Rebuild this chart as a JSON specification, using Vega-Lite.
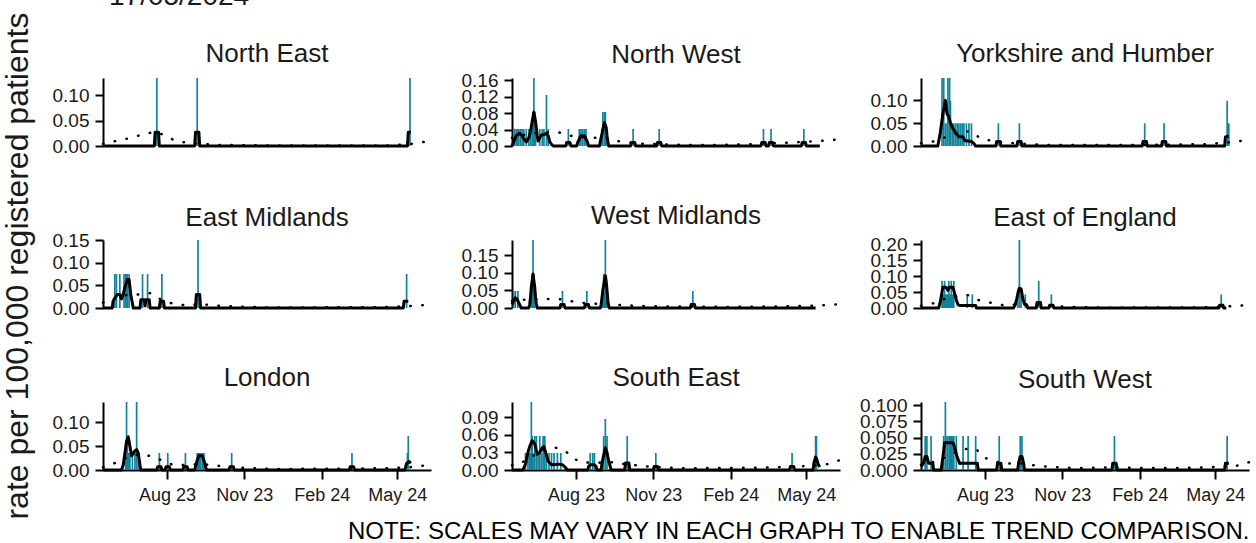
{
"$schema": "https://vega.github.io/schema/vega-lite/v6.json",
"background": "white",
"padding": {"top": -18, "left": 2, "right": 2, "bottom": 0},
"config": {
 "font": "Liberation Sans",
 "view": {"stroke": null},
 "axis": {"grid": false, "domainColor": "black", "domainWidth": 2, "tickColor": "black", "tickWidth": 2, "tickSize": 8, "labelFontSize": 19, "labelColor": "#1a1a1a", "labelPadding": 6, "labelFlush": false, "labelOverlap": false, "tickCount": 20, "titleFontWeight": "normal", "titleColor": "#1a1a1a"},
 "title": {"fontSize": 26, "fontWeight": "normal", "color": "#1a1a1a", "offset": 10}
},
"datasets": {
 "daily": [
  {"region":"NE","date":"2023-07-20","value":0.134},{"region":"NE","date":"2023-09-06","value":0.134},{"region":"NE","date":"2024-05-16","value":0.134},
  {"region":"NW","date":"2023-05-20","value":0.0415},{"region":"NW","date":"2023-05-22","value":0.0415},{"region":"NW","date":"2023-05-24","value":0.0415},{"region":"NW","date":"2023-05-25","value":0.0415},{"region":"NW","date":"2023-05-27","value":0.0415},{"region":"NW","date":"2023-05-29","value":0.0415},{"region":"NW","date":"2023-05-31","value":0.0415},{"region":"NW","date":"2023-06-03","value":0.0415},{"region":"NW","date":"2023-06-06","value":0.0415},{"region":"NW","date":"2023-06-08","value":0.0415},{"region":"NW","date":"2023-06-10","value":0.0415},{"region":"NW","date":"2023-06-11","value":0.083},{"region":"NW","date":"2023-06-12","value":0.166},{"region":"NW","date":"2023-06-13","value":0.083},{"region":"NW","date":"2023-06-14","value":0.0415},{"region":"NW","date":"2023-06-19","value":0.0415},{"region":"NW","date":"2023-06-22","value":0.0415},{"region":"NW","date":"2023-06-24","value":0.0415},{"region":"NW","date":"2023-06-27","value":0.1245},{"region":"NW","date":"2023-06-29","value":0.0415},{"region":"NW","date":"2023-07-23","value":0.0415},{"region":"NW","date":"2023-08-05","value":0.0415},{"region":"NW","date":"2023-08-07","value":0.0415},{"region":"NW","date":"2023-08-09","value":0.0415},{"region":"NW","date":"2023-08-11","value":0.0415},{"region":"NW","date":"2023-08-13","value":0.0415},{"region":"NW","date":"2023-09-01","value":0.0415},{"region":"NW","date":"2023-09-02","value":0.083},{"region":"NW","date":"2023-09-04","value":0.083},{"region":"NW","date":"2023-09-05","value":0.083},{"region":"NW","date":"2023-09-06","value":0.0415},{"region":"NW","date":"2023-10-08","value":0.0415},{"region":"NW","date":"2023-11-08","value":0.0415},{"region":"NW","date":"2024-03-11","value":0.0415},{"region":"NW","date":"2024-03-20","value":0.0415},{"region":"NW","date":"2024-04-28","value":0.0415},
  {"region":"YH","date":"2023-06-11","value":0.149},{"region":"YH","date":"2023-06-13","value":0.149},{"region":"YH","date":"2023-06-15","value":0.0497},{"region":"YH","date":"2023-06-17","value":0.0497},{"region":"YH","date":"2023-06-18","value":0.149},{"region":"YH","date":"2023-06-20","value":0.149},{"region":"YH","date":"2023-06-21","value":0.099},{"region":"YH","date":"2023-06-23","value":0.0497},{"region":"YH","date":"2023-06-25","value":0.0497},{"region":"YH","date":"2023-06-27","value":0.0497},{"region":"YH","date":"2023-06-29","value":0.0497},{"region":"YH","date":"2023-07-01","value":0.0497},{"region":"YH","date":"2023-07-03","value":0.0497},{"region":"YH","date":"2023-07-05","value":0.0497},{"region":"YH","date":"2023-07-07","value":0.0497},{"region":"YH","date":"2023-07-10","value":0.0497},{"region":"YH","date":"2023-07-13","value":0.0497},{"region":"YH","date":"2023-07-16","value":0.0497},{"region":"YH","date":"2023-08-17","value":0.0497},{"region":"YH","date":"2023-09-11","value":0.0497},{"region":"YH","date":"2024-02-07","value":0.0497},{"region":"YH","date":"2024-03-01","value":0.0497},{"region":"YH","date":"2024-05-15","value":0.099},{"region":"YH","date":"2024-05-17","value":0.0497},
  {"region":"EM","date":"2023-05-31","value":0.075},{"region":"EM","date":"2023-06-02","value":0.075},{"region":"EM","date":"2023-06-06","value":0.075},{"region":"EM","date":"2023-06-11","value":0.075},{"region":"EM","date":"2023-06-13","value":0.075},{"region":"EM","date":"2023-06-14","value":0.075},{"region":"EM","date":"2023-06-15","value":0.075},{"region":"EM","date":"2023-06-17","value":0.075},{"region":"EM","date":"2023-07-03","value":0.075},{"region":"EM","date":"2023-07-09","value":0.075},{"region":"EM","date":"2023-07-26","value":0.075},{"region":"EM","date":"2023-09-07","value":0.15},{"region":"EM","date":"2024-05-12","value":0.075},
  {"region":"WM","date":"2023-05-19","value":0.0485},{"region":"WM","date":"2023-05-21","value":0.0485},{"region":"WM","date":"2023-05-24","value":0.0485},{"region":"WM","date":"2023-06-09","value":0.0485},{"region":"WM","date":"2023-06-10","value":0.097},{"region":"WM","date":"2023-06-11","value":0.194},{"region":"WM","date":"2023-06-12","value":0.097},{"region":"WM","date":"2023-06-13","value":0.0485},{"region":"WM","date":"2023-07-16","value":0.0485},{"region":"WM","date":"2023-08-14","value":0.0485},{"region":"WM","date":"2023-09-02","value":0.0485},{"region":"WM","date":"2023-09-03","value":0.097},{"region":"WM","date":"2023-09-04","value":0.0485},{"region":"WM","date":"2023-09-05","value":0.194},{"region":"WM","date":"2023-09-06","value":0.0485},{"region":"WM","date":"2023-09-07","value":0.0485},{"region":"WM","date":"2023-12-18","value":0.0485},
  {"region":"EE","date":"2023-06-11","value":0.085},{"region":"EE","date":"2023-06-12","value":0.0425},{"region":"EE","date":"2023-06-13","value":0.0425},{"region":"EE","date":"2023-06-14","value":0.085},{"region":"EE","date":"2023-06-15","value":0.0425},{"region":"EE","date":"2023-06-16","value":0.0425},{"region":"EE","date":"2023-06-17","value":0.0425},{"region":"EE","date":"2023-06-18","value":0.0425},{"region":"EE","date":"2023-06-19","value":0.085},{"region":"EE","date":"2023-06-20","value":0.0425},{"region":"EE","date":"2023-06-21","value":0.0425},{"region":"EE","date":"2023-06-22","value":0.085},{"region":"EE","date":"2023-06-23","value":0.0425},{"region":"EE","date":"2023-06-24","value":0.0425},{"region":"EE","date":"2023-06-25","value":0.085},{"region":"EE","date":"2023-07-11","value":0.0425},{"region":"EE","date":"2023-07-17","value":0.0425},{"region":"EE","date":"2023-09-09","value":0.0425},{"region":"EE","date":"2023-09-11","value":0.2125},{"region":"EE","date":"2023-09-13","value":0.0425},{"region":"EE","date":"2023-09-18","value":0.0425},{"region":"EE","date":"2023-10-04","value":0.085},{"region":"EE","date":"2023-10-19","value":0.0425},{"region":"EE","date":"2024-05-08","value":0.0425},
  {"region":"LO","date":"2023-06-13","value":0.0357},{"region":"LO","date":"2023-06-14","value":0.143},{"region":"LO","date":"2023-06-15","value":0.0714},{"region":"LO","date":"2023-06-16","value":0.0357},{"region":"LO","date":"2023-06-17","value":0.0357},{"region":"LO","date":"2023-06-18","value":0.0357},{"region":"LO","date":"2023-06-21","value":0.0357},{"region":"LO","date":"2023-06-24","value":0.0357},{"region":"LO","date":"2023-06-26","value":0.143},{"region":"LO","date":"2023-06-28","value":0.0357},{"region":"LO","date":"2023-07-23","value":0.0357},{"region":"LO","date":"2023-08-02","value":0.0357},{"region":"LO","date":"2023-08-23","value":0.0357},{"region":"LO","date":"2023-09-06","value":0.0357},{"region":"LO","date":"2023-09-07","value":0.0357},{"region":"LO","date":"2023-09-08","value":0.0357},{"region":"LO","date":"2023-09-09","value":0.0357},{"region":"LO","date":"2023-09-10","value":0.0357},{"region":"LO","date":"2023-09-12","value":0.0357},{"region":"LO","date":"2023-09-13","value":0.0357},{"region":"LO","date":"2023-09-14","value":0.0357},{"region":"LO","date":"2023-10-17","value":0.0357},{"region":"LO","date":"2024-03-08","value":0.0357},{"region":"LO","date":"2024-05-13","value":0.0357},{"region":"LO","date":"2024-05-14","value":0.0714},
  {"region":"SE","date":"2023-06-02","value":0.029},{"region":"SE","date":"2023-06-05","value":0.029},{"region":"SE","date":"2023-06-07","value":0.029},{"region":"SE","date":"2023-06-08","value":0.029},{"region":"SE","date":"2023-06-09","value":0.116},{"region":"SE","date":"2023-06-10","value":0.058},{"region":"SE","date":"2023-06-11","value":0.029},{"region":"SE","date":"2023-06-13","value":0.058},{"region":"SE","date":"2023-06-15","value":0.058},{"region":"SE","date":"2023-06-17","value":0.029},{"region":"SE","date":"2023-06-19","value":0.058},{"region":"SE","date":"2023-06-21","value":0.029},{"region":"SE","date":"2023-06-23","value":0.058},{"region":"SE","date":"2023-06-25","value":0.058},{"region":"SE","date":"2023-06-27","value":0.029},{"region":"SE","date":"2023-06-30","value":0.029},{"region":"SE","date":"2023-07-03","value":0.029},{"region":"SE","date":"2023-07-06","value":0.029},{"region":"SE","date":"2023-07-10","value":0.029},{"region":"SE","date":"2023-07-14","value":0.029},{"region":"SE","date":"2023-08-18","value":0.029},{"region":"SE","date":"2023-08-21","value":0.029},{"region":"SE","date":"2023-08-23","value":0.029},{"region":"SE","date":"2023-09-03","value":0.058},{"region":"SE","date":"2023-09-05","value":0.087},{"region":"SE","date":"2023-09-07","value":0.058},{"region":"SE","date":"2023-10-01","value":0.058},{"region":"SE","date":"2023-11-04","value":0.029},{"region":"SE","date":"2024-04-14","value":0.029},{"region":"SE","date":"2024-05-12","value":0.058},{"region":"SE","date":"2024-05-13","value":0.058},
  {"region":"SW","date":"2023-05-22","value":0.0525},{"region":"SW","date":"2023-05-24","value":0.0525},{"region":"SW","date":"2023-05-29","value":0.0525},{"region":"SW","date":"2023-06-13","value":0.0525},{"region":"SW","date":"2023-06-15","value":0.105},{"region":"SW","date":"2023-06-17","value":0.0525},{"region":"SW","date":"2023-06-18","value":0.0525},{"region":"SW","date":"2023-06-20","value":0.0525},{"region":"SW","date":"2023-06-21","value":0.0525},{"region":"SW","date":"2023-06-22","value":0.0525},{"region":"SW","date":"2023-06-23","value":0.0525},{"region":"SW","date":"2023-06-25","value":0.0525},{"region":"SW","date":"2023-06-28","value":0.0525},{"region":"SW","date":"2023-07-06","value":0.0525},{"region":"SW","date":"2023-07-12","value":0.0525},{"region":"SW","date":"2023-07-21","value":0.0525},{"region":"SW","date":"2023-08-18","value":0.0525},{"region":"SW","date":"2023-09-12","value":0.0525},{"region":"SW","date":"2023-09-14","value":0.0525},{"region":"SW","date":"2024-01-02","value":0.0525},{"region":"SW","date":"2024-05-15","value":0.0525}
 ],
 "avg": [
  {"region":"NE","date":"2023-05-17","value":0},{"region":"NE","date":"2023-07-17","value":0},{"region":"NE","date":"2023-07-18","value":0.027},{"region":"NE","date":"2023-07-22","value":0.027},{"region":"NE","date":"2023-07-23","value":0},{"region":"NE","date":"2023-09-03","value":0},{"region":"NE","date":"2023-09-04","value":0.027},{"region":"NE","date":"2023-09-08","value":0.027},{"region":"NE","date":"2023-09-09","value":0},{"region":"NE","date":"2024-05-13","value":0},{"region":"NE","date":"2024-05-14","value":0.027},{"region":"NE","date":"2024-05-17","value":0.027},
  {"region":"NW","date":"2023-05-17","value":0},{"region":"NW","date":"2023-05-18","value":0.005},{"region":"NW","date":"2023-05-20","value":0.015},{"region":"NW","date":"2023-05-22","value":0.025},{"region":"NW","date":"2023-05-26","value":0.031},{"region":"NW","date":"2023-05-29","value":0.025},{"region":"NW","date":"2023-06-01","value":0.015},{"region":"NW","date":"2023-06-03","value":0.01},{"region":"NW","date":"2023-06-06","value":0.02},{"region":"NW","date":"2023-06-08","value":0.035},{"region":"NW","date":"2023-06-10","value":0.06},{"region":"NW","date":"2023-06-12","value":0.083},{"region":"NW","date":"2023-06-14","value":0.06},{"region":"NW","date":"2023-06-16","value":0.025},{"region":"NW","date":"2023-06-17","value":0.012},{"region":"NW","date":"2023-06-19","value":0.02},{"region":"NW","date":"2023-06-21","value":0.027},{"region":"NW","date":"2023-06-24","value":0.028},{"region":"NW","date":"2023-06-27","value":0.031},{"region":"NW","date":"2023-06-29","value":0.025},{"region":"NW","date":"2023-07-01","value":0.01},{"region":"NW","date":"2023-07-03","value":0.004},{"region":"NW","date":"2023-07-05","value":0},{"region":"NW","date":"2023-07-20","value":0},{"region":"NW","date":"2023-07-21","value":0.0083},{"region":"NW","date":"2023-07-25","value":0.0083},{"region":"NW","date":"2023-07-26","value":0},{"region":"NW","date":"2023-08-02","value":0},{"region":"NW","date":"2023-08-03","value":0.0083},{"region":"NW","date":"2023-08-05","value":0.017},{"region":"NW","date":"2023-08-07","value":0.025},{"region":"NW","date":"2023-08-11","value":0.025},{"region":"NW","date":"2023-08-13","value":0.017},{"region":"NW","date":"2023-08-15","value":0.0083},{"region":"NW","date":"2023-08-16","value":0},{"region":"NW","date":"2023-08-29","value":0},{"region":"NW","date":"2023-08-30","value":0.01},{"region":"NW","date":"2023-09-01","value":0.03},{"region":"NW","date":"2023-09-03","value":0.05},{"region":"NW","date":"2023-09-04","value":0.057},{"region":"NW","date":"2023-09-06","value":0.045},{"region":"NW","date":"2023-09-07","value":0.025},{"region":"NW","date":"2023-09-08","value":0.01},{"region":"NW","date":"2023-09-09","value":0},{"region":"NW","date":"2023-10-05","value":0},{"region":"NW","date":"2023-10-06","value":0.0083},{"region":"NW","date":"2023-10-10","value":0.0083},{"region":"NW","date":"2023-10-11","value":0},{"region":"NW","date":"2023-11-05","value":0},{"region":"NW","date":"2023-11-06","value":0.0083},{"region":"NW","date":"2023-11-10","value":0.0083},{"region":"NW","date":"2023-11-11","value":0},{"region":"NW","date":"2024-03-08","value":0},{"region":"NW","date":"2024-03-09","value":0.0083},{"region":"NW","date":"2024-03-13","value":0.0083},{"region":"NW","date":"2024-03-14","value":0},{"region":"NW","date":"2024-03-17","value":0},{"region":"NW","date":"2024-03-18","value":0.0083},{"region":"NW","date":"2024-03-22","value":0.0083},{"region":"NW","date":"2024-03-23","value":0},{"region":"NW","date":"2024-04-25","value":0},{"region":"NW","date":"2024-04-26","value":0.0083},{"region":"NW","date":"2024-04-30","value":0.0083},{"region":"NW","date":"2024-05-01","value":0},{"region":"NW","date":"2024-05-17","value":0},
  {"region":"YH","date":"2023-05-17","value":0},{"region":"YH","date":"2023-06-06","value":0},{"region":"YH","date":"2023-06-09","value":0.03},{"region":"YH","date":"2023-06-12","value":0.07},{"region":"YH","date":"2023-06-15","value":0.1},{"region":"YH","date":"2023-06-17","value":0.07},{"region":"YH","date":"2023-06-19","value":0.065},{"region":"YH","date":"2023-06-21","value":0.05},{"region":"YH","date":"2023-06-23","value":0.042},{"region":"YH","date":"2023-06-25","value":0.035},{"region":"YH","date":"2023-06-27","value":0.03},{"region":"YH","date":"2023-06-29","value":0.025},{"region":"YH","date":"2023-07-01","value":0.02},{"region":"YH","date":"2023-07-06","value":0.02},{"region":"YH","date":"2023-07-08","value":0.012},{"region":"YH","date":"2023-07-16","value":0.01},{"region":"YH","date":"2023-07-19","value":0.005},{"region":"YH","date":"2023-07-21","value":0},{"region":"YH","date":"2023-08-14","value":0},{"region":"YH","date":"2023-08-15","value":0.01},{"region":"YH","date":"2023-08-19","value":0.01},{"region":"YH","date":"2023-08-20","value":0},{"region":"YH","date":"2023-09-08","value":0},{"region":"YH","date":"2023-09-09","value":0.01},{"region":"YH","date":"2023-09-13","value":0.01},{"region":"YH","date":"2023-09-14","value":0},{"region":"YH","date":"2024-02-04","value":0},{"region":"YH","date":"2024-02-05","value":0.01},{"region":"YH","date":"2024-02-09","value":0.01},{"region":"YH","date":"2024-02-10","value":0},{"region":"YH","date":"2024-02-27","value":0},{"region":"YH","date":"2024-02-28","value":0.01},{"region":"YH","date":"2024-03-03","value":0.01},{"region":"YH","date":"2024-03-04","value":0},{"region":"YH","date":"2024-05-12","value":0},{"region":"YH","date":"2024-05-13","value":0.02},{"region":"YH","date":"2024-05-17","value":0.022},
  {"region":"EM","date":"2023-05-17","value":0},{"region":"EM","date":"2023-05-28","value":0},{"region":"EM","date":"2023-05-29","value":0.015},{"region":"EM","date":"2023-05-31","value":0.022},{"region":"EM","date":"2023-06-03","value":0.03},{"region":"EM","date":"2023-06-06","value":0.03},{"region":"EM","date":"2023-06-08","value":0.02},{"region":"EM","date":"2023-06-10","value":0.03},{"region":"EM","date":"2023-06-12","value":0.045},{"region":"EM","date":"2023-06-15","value":0.063},{"region":"EM","date":"2023-06-17","value":0.063},{"region":"EM","date":"2023-06-19","value":0.03},{"region":"EM","date":"2023-06-21","value":0.01},{"region":"EM","date":"2023-06-22","value":0},{"region":"EM","date":"2023-06-30","value":0},{"region":"EM","date":"2023-07-01","value":0.018},{"region":"EM","date":"2023-07-05","value":0.018},{"region":"EM","date":"2023-07-06","value":0.005},{"region":"EM","date":"2023-07-07","value":0.018},{"region":"EM","date":"2023-07-11","value":0.018},{"region":"EM","date":"2023-07-12","value":0},{"region":"EM","date":"2023-07-23","value":0},{"region":"EM","date":"2023-07-24","value":0.015},{"region":"EM","date":"2023-07-28","value":0.015},{"region":"EM","date":"2023-07-29","value":0},{"region":"EM","date":"2023-09-04","value":0},{"region":"EM","date":"2023-09-05","value":0.03},{"region":"EM","date":"2023-09-09","value":0.03},{"region":"EM","date":"2023-09-10","value":0},{"region":"EM","date":"2024-05-08","value":0},{"region":"EM","date":"2024-05-09","value":0.015},{"region":"EM","date":"2024-05-14","value":0.015},
  {"region":"WM","date":"2023-05-17","value":0.01},{"region":"WM","date":"2023-05-19","value":0.02},{"region":"WM","date":"2023-05-21","value":0.029},{"region":"WM","date":"2023-05-23","value":0.025},{"region":"WM","date":"2023-05-25","value":0.015},{"region":"WM","date":"2023-05-27","value":0.005},{"region":"WM","date":"2023-05-28","value":0},{"region":"WM","date":"2023-06-06","value":0},{"region":"WM","date":"2023-06-07","value":0.01},{"region":"WM","date":"2023-06-08","value":0.03},{"region":"WM","date":"2023-06-09","value":0.06},{"region":"WM","date":"2023-06-11","value":0.097},{"region":"WM","date":"2023-06-13","value":0.06},{"region":"WM","date":"2023-06-14","value":0.03},{"region":"WM","date":"2023-06-15","value":0.012},{"region":"WM","date":"2023-06-16","value":0},{"region":"WM","date":"2023-07-13","value":0},{"region":"WM","date":"2023-07-14","value":0.0097},{"region":"WM","date":"2023-07-18","value":0.0097},{"region":"WM","date":"2023-07-19","value":0},{"region":"WM","date":"2023-08-11","value":0},{"region":"WM","date":"2023-08-12","value":0.0097},{"region":"WM","date":"2023-08-16","value":0.0097},{"region":"WM","date":"2023-08-17","value":0},{"region":"WM","date":"2023-08-30","value":0},{"region":"WM","date":"2023-08-31","value":0.01},{"region":"WM","date":"2023-09-01","value":0.03},{"region":"WM","date":"2023-09-02","value":0.05},{"region":"WM","date":"2023-09-04","value":0.08},{"region":"WM","date":"2023-09-05","value":0.092},{"region":"WM","date":"2023-09-06","value":0.075},{"region":"WM","date":"2023-09-07","value":0.05},{"region":"WM","date":"2023-09-08","value":0.02},{"region":"WM","date":"2023-09-09","value":0.005},{"region":"WM","date":"2023-09-10","value":0},{"region":"WM","date":"2023-12-15","value":0},{"region":"WM","date":"2023-12-16","value":0.0097},{"region":"WM","date":"2023-12-20","value":0.0097},{"region":"WM","date":"2023-12-21","value":0},{"region":"WM","date":"2024-05-12","value":0},
  {"region":"EE","date":"2023-05-17","value":0},{"region":"EE","date":"2023-06-07","value":0},{"region":"EE","date":"2023-06-09","value":0.02},{"region":"EE","date":"2023-06-11","value":0.05},{"region":"EE","date":"2023-06-12","value":0.065},{"region":"EE","date":"2023-06-16","value":0.065},{"region":"EE","date":"2023-06-18","value":0.055},{"region":"EE","date":"2023-06-20","value":0.065},{"region":"EE","date":"2023-06-24","value":0.065},{"region":"EE","date":"2023-06-26","value":0.045},{"region":"EE","date":"2023-06-28","value":0.025},{"region":"EE","date":"2023-06-30","value":0.01},{"region":"EE","date":"2023-07-02","value":0.008},{"region":"EE","date":"2023-07-21","value":0.008},{"region":"EE","date":"2023-07-22","value":0},{"region":"EE","date":"2023-09-04","value":0},{"region":"EE","date":"2023-09-06","value":0.01},{"region":"EE","date":"2023-09-08","value":0.03},{"region":"EE","date":"2023-09-10","value":0.055},{"region":"EE","date":"2023-09-11","value":0.062},{"region":"EE","date":"2023-09-13","value":0.06},{"region":"EE","date":"2023-09-15","value":0.03},{"region":"EE","date":"2023-09-17","value":0.012},{"region":"EE","date":"2023-09-20","value":0.008},{"region":"EE","date":"2023-09-21","value":0},{"region":"EE","date":"2023-10-01","value":0},{"region":"EE","date":"2023-10-02","value":0.017},{"region":"EE","date":"2023-10-06","value":0.017},{"region":"EE","date":"2023-10-07","value":0},{"region":"EE","date":"2023-10-16","value":0},{"region":"EE","date":"2023-10-17","value":0.0085},{"region":"EE","date":"2023-10-21","value":0.0085},{"region":"EE","date":"2023-10-22","value":0},{"region":"EE","date":"2024-05-05","value":0},{"region":"EE","date":"2024-05-06","value":0.0085},{"region":"EE","date":"2024-05-10","value":0.0085},{"region":"EE","date":"2024-05-11","value":0},{"region":"EE","date":"2024-05-14","value":0},
  {"region":"LO","date":"2023-05-17","value":0},{"region":"LO","date":"2023-06-08","value":0},{"region":"LO","date":"2023-06-10","value":0.01},{"region":"LO","date":"2023-06-12","value":0.035},{"region":"LO","date":"2023-06-14","value":0.06},{"region":"LO","date":"2023-06-16","value":0.07},{"region":"LO","date":"2023-06-18","value":0.05},{"region":"LO","date":"2023-06-20","value":0.03},{"region":"LO","date":"2023-06-22","value":0.035},{"region":"LO","date":"2023-06-24","value":0.04},{"region":"LO","date":"2023-06-26","value":0.043},{"region":"LO","date":"2023-06-28","value":0.035},{"region":"LO","date":"2023-06-30","value":0.01},{"region":"LO","date":"2023-07-01","value":0},{"region":"LO","date":"2023-07-20","value":0},{"region":"LO","date":"2023-07-21","value":0.007},{"region":"LO","date":"2023-07-25","value":0.007},{"region":"LO","date":"2023-07-26","value":0},{"region":"LO","date":"2023-07-30","value":0},{"region":"LO","date":"2023-07-31","value":0.007},{"region":"LO","date":"2023-08-04","value":0.007},{"region":"LO","date":"2023-08-05","value":0},{"region":"LO","date":"2023-08-20","value":0},{"region":"LO","date":"2023-08-21","value":0.007},{"region":"LO","date":"2023-08-25","value":0.007},{"region":"LO","date":"2023-08-26","value":0},{"region":"LO","date":"2023-09-03","value":0},{"region":"LO","date":"2023-09-04","value":0.007},{"region":"LO","date":"2023-09-06","value":0.02},{"region":"LO","date":"2023-09-08","value":0.03},{"region":"LO","date":"2023-09-12","value":0.03},{"region":"LO","date":"2023-09-14","value":0.02},{"region":"LO","date":"2023-09-16","value":0.007},{"region":"LO","date":"2023-09-17","value":0},{"region":"LO","date":"2023-10-14","value":0},{"region":"LO","date":"2023-10-15","value":0.007},{"region":"LO","date":"2023-10-19","value":0.007},{"region":"LO","date":"2023-10-20","value":0},{"region":"LO","date":"2024-03-05","value":0},{"region":"LO","date":"2024-03-06","value":0.007},{"region":"LO","date":"2024-03-10","value":0.007},{"region":"LO","date":"2024-03-11","value":0},{"region":"LO","date":"2024-05-10","value":0},{"region":"LO","date":"2024-05-11","value":0.007},{"region":"LO","date":"2024-05-12","value":0.014},{"region":"LO","date":"2024-05-15","value":0.018},{"region":"LO","date":"2024-05-17","value":0.014},
  {"region":"SE","date":"2023-05-17","value":0},{"region":"SE","date":"2023-05-30","value":0},{"region":"SE","date":"2023-06-02","value":0.01},{"region":"SE","date":"2023-06-05","value":0.03},{"region":"SE","date":"2023-06-07","value":0.04},{"region":"SE","date":"2023-06-10","value":0.05},{"region":"SE","date":"2023-06-13","value":0.045},{"region":"SE","date":"2023-06-16","value":0.027},{"region":"SE","date":"2023-06-19","value":0.03},{"region":"SE","date":"2023-06-22","value":0.038},{"region":"SE","date":"2023-06-24","value":0.04},{"region":"SE","date":"2023-06-26","value":0.03},{"region":"SE","date":"2023-06-29","value":0.015},{"region":"SE","date":"2023-07-03","value":0.009},{"region":"SE","date":"2023-07-11","value":0.01},{"region":"SE","date":"2023-07-16","value":0.009},{"region":"SE","date":"2023-07-19","value":0.005},{"region":"SE","date":"2023-07-22","value":0},{"region":"SE","date":"2023-08-15","value":0},{"region":"SE","date":"2023-08-16","value":0.006},{"region":"SE","date":"2023-08-18","value":0.009},{"region":"SE","date":"2023-08-23","value":0.009},{"region":"SE","date":"2023-08-25","value":0.006},{"region":"SE","date":"2023-08-26","value":0},{"region":"SE","date":"2023-08-31","value":0},{"region":"SE","date":"2023-09-01","value":0.012},{"region":"SE","date":"2023-09-03","value":0.025},{"region":"SE","date":"2023-09-05","value":0.038},{"region":"SE","date":"2023-09-07","value":0.03},{"region":"SE","date":"2023-09-09","value":0.015},{"region":"SE","date":"2023-09-11","value":0.005},{"region":"SE","date":"2023-09-12","value":0},{"region":"SE","date":"2023-09-28","value":0},{"region":"SE","date":"2023-09-29","value":0.012},{"region":"SE","date":"2023-10-03","value":0.012},{"region":"SE","date":"2023-10-04","value":0},{"region":"SE","date":"2023-11-01","value":0},{"region":"SE","date":"2023-11-02","value":0.006},{"region":"SE","date":"2023-11-06","value":0.006},{"region":"SE","date":"2023-11-07","value":0},{"region":"SE","date":"2024-04-11","value":0},{"region":"SE","date":"2024-04-12","value":0.006},{"region":"SE","date":"2024-04-16","value":0.006},{"region":"SE","date":"2024-04-17","value":0},{"region":"SE","date":"2024-05-09","value":0},{"region":"SE","date":"2024-05-10","value":0.012},{"region":"SE","date":"2024-05-12","value":0.022},{"region":"SE","date":"2024-05-13","value":0.02},{"region":"SE","date":"2024-05-15","value":0.01},{"region":"SE","date":"2024-05-17","value":0.005},
  {"region":"SW","date":"2023-05-17","value":0.005},{"region":"SW","date":"2023-05-20","value":0.0105},{"region":"SW","date":"2023-05-22","value":0.021},{"region":"SW","date":"2023-05-24","value":0.021},{"region":"SW","date":"2023-05-26","value":0.0105},{"region":"SW","date":"2023-05-31","value":0.0105},{"region":"SW","date":"2023-06-01","value":0},{"region":"SW","date":"2023-06-10","value":0},{"region":"SW","date":"2023-06-11","value":0.01},{"region":"SW","date":"2023-06-13","value":0.03},{"region":"SW","date":"2023-06-14","value":0.042},{"region":"SW","date":"2023-06-24","value":0.042},{"region":"SW","date":"2023-06-26","value":0.035},{"region":"SW","date":"2023-06-29","value":0.02},{"region":"SW","date":"2023-07-02","value":0.01},{"region":"SW","date":"2023-07-04","value":0.0105},{"region":"SW","date":"2023-07-23","value":0.0105},{"region":"SW","date":"2023-07-24","value":0},{"region":"SW","date":"2023-08-15","value":0},{"region":"SW","date":"2023-08-16","value":0.0105},{"region":"SW","date":"2023-08-20","value":0.0105},{"region":"SW","date":"2023-08-21","value":0},{"region":"SW","date":"2023-09-09","value":0},{"region":"SW","date":"2023-09-10","value":0.0105},{"region":"SW","date":"2023-09-12","value":0.021},{"region":"SW","date":"2023-09-14","value":0.021},{"region":"SW","date":"2023-09-16","value":0.0105},{"region":"SW","date":"2023-09-17","value":0},{"region":"SW","date":"2023-12-30","value":0},{"region":"SW","date":"2023-12-31","value":0.0105},{"region":"SW","date":"2024-01-04","value":0.0105},{"region":"SW","date":"2024-01-05","value":0},{"region":"SW","date":"2024-05-12","value":0},{"region":"SW","date":"2024-05-13","value":0.0105},{"region":"SW","date":"2024-05-17","value":0.0105}
 ],
 "trend": [
  {"region":"NE","date":"2023-05-17","value":0.004},{"region":"NE","date":"2023-05-27","value":0.008},{"region":"NE","date":"2023-06-16","value":0.015},{"region":"NE","date":"2023-07-06","value":0.024},{"region":"NE","date":"2023-07-18","value":0.028},{"region":"NE","date":"2023-07-28","value":0.022},{"region":"NE","date":"2023-08-10","value":0.011},{"region":"NE","date":"2023-08-25","value":0.006},{"region":"NE","date":"2023-09-09","value":0.004},{"region":"NE","date":"2023-10-04","value":0.002},{"region":"NE","date":"2023-12-03","value":0.001},{"region":"NE","date":"2024-04-21","value":0.001},{"region":"NE","date":"2024-05-17","value":0.004},{"region":"NE","date":"2024-06-10","value":0.01},
  {"region":"NW","date":"2023-05-17","value":0.02},{"region":"NW","date":"2023-06-06","value":0.03},{"region":"NW","date":"2023-06-26","value":0.034},{"region":"NW","date":"2023-07-12","value":0.033},{"region":"NW","date":"2023-07-26","value":0.025},{"region":"NW","date":"2023-08-15","value":0.02},{"region":"NW","date":"2023-09-04","value":0.02},{"region":"NW","date":"2023-09-24","value":0.01},{"region":"NW","date":"2023-10-14","value":0.006},{"region":"NW","date":"2023-11-13","value":0.004},{"region":"NW","date":"2023-12-23","value":0.002},{"region":"NW","date":"2024-02-21","value":0.004},{"region":"NW","date":"2024-03-12","value":0.006},{"region":"NW","date":"2024-04-17","value":0.009},{"region":"NW","date":"2024-05-17","value":0.012},{"region":"NW","date":"2024-05-26","value":0.014},{"region":"NW","date":"2024-06-10","value":0.016},
  {"region":"YH","date":"2023-05-17","value":0.006},{"region":"YH","date":"2023-06-01","value":0.01},{"region":"YH","date":"2023-06-16","value":0.02},{"region":"YH","date":"2023-07-01","value":0.03},{"region":"YH","date":"2023-07-13","value":0.032},{"region":"YH","date":"2023-07-18","value":0.03},{"region":"YH","date":"2023-07-26","value":0.017},{"region":"YH","date":"2023-08-07","value":0.012},{"region":"YH","date":"2023-08-20","value":0.008},{"region":"YH","date":"2023-09-14","value":0.005},{"region":"YH","date":"2023-10-14","value":0.002},{"region":"YH","date":"2024-01-22","value":0.002},{"region":"YH","date":"2024-03-12","value":0.003},{"region":"YH","date":"2024-04-21","value":0.004},{"region":"YH","date":"2024-05-17","value":0.008},{"region":"YH","date":"2024-06-10","value":0.013},
  {"region":"EM","date":"2023-05-17","value":0.012},{"region":"EM","date":"2023-06-01","value":0.02},{"region":"EM","date":"2023-06-16","value":0.03},{"region":"EM","date":"2023-07-01","value":0.03},{"region":"EM","date":"2023-07-14","value":0.033},{"region":"EM","date":"2023-07-26","value":0.017},{"region":"EM","date":"2023-08-05","value":0.011},{"region":"EM","date":"2023-08-15","value":0.0075},{"region":"EM","date":"2023-08-27","value":0.005},{"region":"EM","date":"2023-09-09","value":0.009},{"region":"EM","date":"2023-09-29","value":0.005},{"region":"EM","date":"2023-10-24","value":0.003},{"region":"EM","date":"2023-12-03","value":0.001},{"region":"EM","date":"2024-04-21","value":0.002},{"region":"EM","date":"2024-05-25","value":0.005},{"region":"EM","date":"2024-06-10","value":0.008},
  {"region":"WM","date":"2023-05-17","value":0.02},{"region":"WM","date":"2023-06-06","value":0.025},{"region":"WM","date":"2023-07-01","value":0.026},{"region":"WM","date":"2023-07-15","value":0.025},{"region":"WM","date":"2023-07-25","value":0.02},{"region":"WM","date":"2023-08-06","value":0.015},{"region":"WM","date":"2023-08-25","value":0.012},{"region":"WM","date":"2023-09-09","value":0.012},{"region":"WM","date":"2023-09-24","value":0.008},{"region":"WM","date":"2023-10-24","value":0.005},{"region":"WM","date":"2023-12-18","value":0.004},{"region":"WM","date":"2024-01-22","value":0.003},{"region":"WM","date":"2024-03-12","value":0.004},{"region":"WM","date":"2024-04-16","value":0.005},{"region":"WM","date":"2024-05-17","value":0.007},{"region":"WM","date":"2024-06-10","value":0.011},
  {"region":"EE","date":"2023-05-17","value":0.007},{"region":"EE","date":"2023-06-01","value":0.015},{"region":"EE","date":"2023-06-16","value":0.03},{"region":"EE","date":"2023-07-01","value":0.038},{"region":"EE","date":"2023-07-12","value":0.04},{"region":"EE","date":"2023-07-24","value":0.025},{"region":"EE","date":"2023-08-03","value":0.02},{"region":"EE","date":"2023-08-17","value":0.01},{"region":"EE","date":"2023-08-29","value":0.008},{"region":"EE","date":"2023-09-09","value":0.012},{"region":"EE","date":"2023-09-24","value":0.012},{"region":"EE","date":"2023-10-14","value":0.008},{"region":"EE","date":"2023-11-03","value":0.004},{"region":"EE","date":"2023-12-23","value":0.001},{"region":"EE","date":"2024-04-21","value":0.002},{"region":"EE","date":"2024-05-17","value":0.005},{"region":"EE","date":"2024-06-10","value":0.009},
  {"region":"LO","date":"2023-05-17","value":0.006},{"region":"LO","date":"2023-06-01","value":0.015},{"region":"LO","date":"2023-06-16","value":0.028},{"region":"LO","date":"2023-07-01","value":0.033},{"region":"LO","date":"2023-07-16","value":0.028},{"region":"LO","date":"2023-07-26","value":0.02},{"region":"LO","date":"2023-08-08","value":0.011},{"region":"LO","date":"2023-08-25","value":0.01},{"region":"LO","date":"2023-09-09","value":0.013},{"region":"LO","date":"2023-09-24","value":0.01},{"region":"LO","date":"2023-10-24","value":0.005},{"region":"LO","date":"2023-12-03","value":0.002},{"region":"LO","date":"2024-03-12","value":0.003},{"region":"LO","date":"2024-04-21","value":0.004},{"region":"LO","date":"2024-05-17","value":0.006},{"region":"LO","date":"2024-06-10","value":0.011},
  {"region":"SE","date":"2023-05-17","value":0.008},{"region":"SE","date":"2023-05-24","value":0.0087},{"region":"SE","date":"2023-06-06","value":0.02},{"region":"SE","date":"2023-06-21","value":0.032},{"region":"SE","date":"2023-07-08","value":0.038},{"region":"SE","date":"2023-07-20","value":0.032},{"region":"SE","date":"2023-07-28","value":0.02},{"region":"SE","date":"2023-08-09","value":0.013},{"region":"SE","date":"2023-08-25","value":0.012},{"region":"SE","date":"2023-09-09","value":0.014},{"region":"SE","date":"2023-09-29","value":0.01},{"region":"SE","date":"2023-10-24","value":0.006},{"region":"SE","date":"2023-12-03","value":0.003},{"region":"SE","date":"2024-03-12","value":0.004},{"region":"SE","date":"2024-04-21","value":0.006},{"region":"SE","date":"2024-05-17","value":0.008},{"region":"SE","date":"2024-05-26","value":0.01},{"region":"SE","date":"2024-06-10","value":0.017},
  {"region":"SW","date":"2023-05-17","value":0.008},{"region":"SW","date":"2023-05-27","value":0.01},{"region":"SW","date":"2023-06-04","value":0.014},{"region":"SW","date":"2023-06-16","value":0.02},{"region":"SW","date":"2023-07-01","value":0.03},{"region":"SW","date":"2023-07-12","value":0.033},{"region":"SW","date":"2023-07-22","value":0.032},{"region":"SW","date":"2023-07-30","value":0.02},{"region":"SW","date":"2023-08-10","value":0.014},{"region":"SW","date":"2023-08-25","value":0.01},{"region":"SW","date":"2023-09-14","value":0.01},{"region":"SW","date":"2023-10-04","value":0.006},{"region":"SW","date":"2023-11-13","value":0.003},{"region":"SW","date":"2024-01-02","value":0.004},{"region":"SW","date":"2024-02-01","value":0.003},{"region":"SW","date":"2024-03-12","value":0.003},{"region":"SW","date":"2024-04-21","value":0.004},{"region":"SW","date":"2024-05-17","value":0.006},{"region":"SW","date":"2024-05-30","value":0.007},{"region":"SW","date":"2024-06-10","value":0.012}
 ]
},
"title": {"text": "17/05/2024", "anchor": "start", "fontSize": 28, "dx": 107, "offset": 2},
"vconcat": [{
 "title": {"text": "rate per 100,000 registered patients", "orient": "left", "anchor": "middle", "fontSize": 32, "dx": 26, "offset": 17},
 "columns": 3,
 "bounds": "flush",
 "spacing": {"row": 94, "column": 81},
 "resolve": {"scale": {"x": "independent", "y": "independent"}, "axis": {"x": "independent", "y": "independent"}},
 "concat": [
  {"title": {"text": "North East", "offset": 10}, "width": 328, "height": 68,
   "encoding": {"x": {"field": "date", "type": "temporal", "scale": {"type": "utc", "domain": [{"year": 2023, "month": 5, "date": 17, "utc": true}, {"year": 2024, "month": 6, "date": 10, "utc": true}]}, "axis": null},
                "y": {"field": "value", "type": "quantitative", "scale": {"zero": true, "nice": false}, "axis": {"title": null, "labelOverlap": false, "tickCount": 20, "values": [0, 0.05, 0.1], "format": ".2f"}}},
   "layer": [
    {"data": {"name": "daily"}, "transform": [{"filter": "datum.region === 'NE'"}], "mark": {"type": "rule", "color": "#118499", "strokeWidth": 1.7}, "encoding": {"y2": {"datum": 0}}},
    {"data": {"name": "avg"}, "transform": [{"filter": "datum.region === 'NE'"}], "mark": {"type": "line", "color": "black", "strokeWidth": 3, "strokeJoin": "round"}, "encoding": {}},
    {"data": {"name": "trend"}, "transform": [{"filter": "datum.region === 'NE'"}], "mark": {"type": "line", "color": "black", "strokeWidth": 2.5, "strokeDash": [0.5, 11.5], "strokeCap": "round"}, "encoding": {}}
   ]},
  {"title": {"text": "North West", "offset": 3}, "width": 328, "height": 68,
   "encoding": {"x": {"field": "date", "type": "temporal", "scale": {"type": "utc", "domain": [{"year": 2023, "month": 5, "date": 17, "utc": true}, {"year": 2024, "month": 6, "date": 10, "utc": true}]}, "axis": null},
                "y": {"field": "value", "type": "quantitative", "scale": {"zero": true, "nice": false}, "axis": {"title": null, "labelOverlap": false, "tickCount": 20, "values": [0, 0.04, 0.08, 0.12, 0.16], "format": ".2f"}}},
   "layer": [
    {"data": {"name": "daily"}, "transform": [{"filter": "datum.region === 'NW'"}], "mark": {"type": "rule", "color": "#118499", "strokeWidth": 1.7}, "encoding": {"y2": {"datum": 0}}},
    {"data": {"name": "avg"}, "transform": [{"filter": "datum.region === 'NW'"}], "mark": {"type": "line", "color": "black", "strokeWidth": 3, "strokeJoin": "round"}, "encoding": {}},
    {"data": {"name": "trend"}, "transform": [{"filter": "datum.region === 'NW'"}], "mark": {"type": "line", "color": "black", "strokeWidth": 2.5, "strokeDash": [0.5, 11.5], "strokeCap": "round"}, "encoding": {}}
   ]},
  {"title": {"text": "Yorkshire and Humber", "offset": 10}, "width": 328, "height": 68,
   "encoding": {"x": {"field": "date", "type": "temporal", "scale": {"type": "utc", "domain": [{"year": 2023, "month": 5, "date": 17, "utc": true}, {"year": 2024, "month": 6, "date": 10, "utc": true}]}, "axis": null},
                "y": {"field": "value", "type": "quantitative", "scale": {"zero": true, "nice": false}, "axis": {"title": null, "labelOverlap": false, "tickCount": 20, "values": [0, 0.05, 0.1], "format": ".2f"}}},
   "layer": [
    {"data": {"name": "daily"}, "transform": [{"filter": "datum.region === 'YH'"}], "mark": {"type": "rule", "color": "#118499", "strokeWidth": 1.7}, "encoding": {"y2": {"datum": 0}}},
    {"data": {"name": "avg"}, "transform": [{"filter": "datum.region === 'YH'"}], "mark": {"type": "line", "color": "black", "strokeWidth": 3, "strokeJoin": "round"}, "encoding": {}},
    {"data": {"name": "trend"}, "transform": [{"filter": "datum.region === 'YH'"}], "mark": {"type": "line", "color": "black", "strokeWidth": 2.5, "strokeDash": [0.5, 11.5], "strokeCap": "round"}, "encoding": {}}
   ]},
  {"title": {"text": "East Midlands", "offset": 0.5}, "width": 328, "height": 68,
   "encoding": {"x": {"field": "date", "type": "temporal", "scale": {"type": "utc", "domain": [{"year": 2023, "month": 5, "date": 17, "utc": true}, {"year": 2024, "month": 6, "date": 10, "utc": true}]}, "axis": null},
                "y": {"field": "value", "type": "quantitative", "scale": {"zero": true, "nice": false}, "axis": {"title": null, "labelOverlap": false, "tickCount": 20, "values": [0, 0.05, 0.1, 0.15], "format": ".2f"}}},
   "layer": [
    {"data": {"name": "daily"}, "transform": [{"filter": "datum.region === 'EM'"}], "mark": {"type": "rule", "color": "#118499", "strokeWidth": 1.7}, "encoding": {"y2": {"datum": 0}}},
    {"data": {"name": "avg"}, "transform": [{"filter": "datum.region === 'EM'"}], "mark": {"type": "line", "color": "black", "strokeWidth": 3, "strokeJoin": "round"}, "encoding": {}},
    {"data": {"name": "trend"}, "transform": [{"filter": "datum.region === 'EM'"}], "mark": {"type": "line", "color": "black", "strokeWidth": 2.5, "strokeDash": [0.5, 11.5], "strokeCap": "round"}, "encoding": {}}
   ]},
  {"title": {"text": "West Midlands", "offset": 10}, "width": 328, "height": 68,
   "encoding": {"x": {"field": "date", "type": "temporal", "scale": {"type": "utc", "domain": [{"year": 2023, "month": 5, "date": 17, "utc": true}, {"year": 2024, "month": 6, "date": 10, "utc": true}]}, "axis": null},
                "y": {"field": "value", "type": "quantitative", "scale": {"zero": true, "nice": false}, "axis": {"title": null, "labelOverlap": false, "tickCount": 20, "values": [0, 0.05, 0.1, 0.15], "format": ".2f"}}},
   "layer": [
    {"data": {"name": "daily"}, "transform": [{"filter": "datum.region === 'WM'"}], "mark": {"type": "rule", "color": "#118499", "strokeWidth": 1.7}, "encoding": {"y2": {"datum": 0}}},
    {"data": {"name": "avg"}, "transform": [{"filter": "datum.region === 'WM'"}], "mark": {"type": "line", "color": "black", "strokeWidth": 3, "strokeJoin": "round"}, "encoding": {}},
    {"data": {"name": "trend"}, "transform": [{"filter": "datum.region === 'WM'"}], "mark": {"type": "line", "color": "black", "strokeWidth": 2.5, "strokeDash": [0.5, 11.5], "strokeCap": "round"}, "encoding": {}}
   ]},
  {"title": {"text": "East of England", "offset": 4.5}, "width": 328, "height": 68,
   "encoding": {"x": {"field": "date", "type": "temporal", "scale": {"type": "utc", "domain": [{"year": 2023, "month": 5, "date": 17, "utc": true}, {"year": 2024, "month": 6, "date": 10, "utc": true}]}, "axis": null},
                "y": {"field": "value", "type": "quantitative", "scale": {"zero": true, "nice": false}, "axis": {"title": null, "labelOverlap": false, "tickCount": 20, "values": [0, 0.05, 0.1, 0.15, 0.2], "format": ".2f"}}},
   "layer": [
    {"data": {"name": "daily"}, "transform": [{"filter": "datum.region === 'EE'"}], "mark": {"type": "rule", "color": "#118499", "strokeWidth": 1.7}, "encoding": {"y2": {"datum": 0}}},
    {"data": {"name": "avg"}, "transform": [{"filter": "datum.region === 'EE'"}], "mark": {"type": "line", "color": "black", "strokeWidth": 3, "strokeJoin": "round"}, "encoding": {}},
    {"data": {"name": "trend"}, "transform": [{"filter": "datum.region === 'EE'"}], "mark": {"type": "line", "color": "black", "strokeWidth": 2.5, "strokeDash": [0.5, 11.5], "strokeCap": "round"}, "encoding": {}}
   ]},
  {"title": {"text": "London", "offset": 10}, "width": 328, "height": 68,
   "encoding": {"x": {"field": "date", "type": "temporal", "scale": {"type": "utc", "domain": [{"year": 2023, "month": 5, "date": 17, "utc": true}, {"year": 2024, "month": 6, "date": 10, "utc": true}]}, "axis": {"title": null, "tickSize": 9, "labelPadding": 7, "labelFontSize": 18, "format": "%b %y", "values": [{"year": 2023, "month": 8, "date": 1, "utc": true}, {"year": 2023, "month": 11, "date": 1, "utc": true}, {"year": 2024, "month": 2, "date": 1, "utc": true}, {"year": 2024, "month": 5, "date": 1, "utc": true}]}},
                "y": {"field": "value", "type": "quantitative", "scale": {"zero": true, "nice": false}, "axis": {"title": null, "labelOverlap": false, "tickCount": 20, "values": [0, 0.05, 0.1], "format": ".2f"}}},
   "layer": [
    {"data": {"name": "daily"}, "transform": [{"filter": "datum.region === 'LO'"}], "mark": {"type": "rule", "color": "#118499", "strokeWidth": 1.7}, "encoding": {"y2": {"datum": 0}}},
    {"data": {"name": "avg"}, "transform": [{"filter": "datum.region === 'LO'"}], "mark": {"type": "line", "color": "black", "strokeWidth": 3, "strokeJoin": "round"}, "encoding": {}},
    {"data": {"name": "trend"}, "transform": [{"filter": "datum.region === 'LO'"}], "mark": {"type": "line", "color": "black", "strokeWidth": 2.5, "strokeDash": [0.5, 11.5], "strokeCap": "round"}, "encoding": {}}
   ]},
  {"title": {"text": "South East", "offset": 10}, "width": 328, "height": 68,
   "encoding": {"x": {"field": "date", "type": "temporal", "scale": {"type": "utc", "domain": [{"year": 2023, "month": 5, "date": 17, "utc": true}, {"year": 2024, "month": 6, "date": 10, "utc": true}]}, "axis": {"title": null, "tickSize": 9, "labelPadding": 7, "labelFontSize": 18, "format": "%b %y", "values": [{"year": 2023, "month": 8, "date": 1, "utc": true}, {"year": 2023, "month": 11, "date": 1, "utc": true}, {"year": 2024, "month": 2, "date": 1, "utc": true}, {"year": 2024, "month": 5, "date": 1, "utc": true}]}},
                "y": {"field": "value", "type": "quantitative", "scale": {"zero": true, "nice": false}, "axis": {"title": null, "labelOverlap": false, "tickCount": 20, "values": [0, 0.03, 0.06, 0.09], "format": ".2f"}}},
   "layer": [
    {"data": {"name": "daily"}, "transform": [{"filter": "datum.region === 'SE'"}], "mark": {"type": "rule", "color": "#118499", "strokeWidth": 1.7}, "encoding": {"y2": {"datum": 0}}},
    {"data": {"name": "avg"}, "transform": [{"filter": "datum.region === 'SE'"}], "mark": {"type": "line", "color": "black", "strokeWidth": 3, "strokeJoin": "round"}, "encoding": {}},
    {"data": {"name": "trend"}, "transform": [{"filter": "datum.region === 'SE'"}], "mark": {"type": "line", "color": "black", "strokeWidth": 2.5, "strokeDash": [0.5, 11.5], "strokeCap": "round"}, "encoding": {}}
   ]},
  {"title": {"text": "South West", "offset": 3.7}, "width": 328, "height": 68,
   "encoding": {"x": {"field": "date", "type": "temporal", "scale": {"type": "utc", "domain": [{"year": 2023, "month": 5, "date": 17, "utc": true}, {"year": 2024, "month": 6, "date": 10, "utc": true}]}, "axis": {"title": "NOTE: SCALES MAY VARY IN EACH GRAPH TO ENABLE TREND COMPARISON.", "titleAnchor": "end", "titleFontSize": 24, "titleColor": "black", "titlePadding": 15, "tickSize": 9, "labelPadding": 7, "labelFontSize": 18, "format": "%b %y", "values": [{"year": 2023, "month": 8, "date": 1, "utc": true}, {"year": 2023, "month": 11, "date": 1, "utc": true}, {"year": 2024, "month": 2, "date": 1, "utc": true}, {"year": 2024, "month": 5, "date": 1, "utc": true}]}},
                "y": {"field": "value", "type": "quantitative", "scale": {"zero": true, "nice": false}, "axis": {"title": null, "labelOverlap": false, "tickCount": 20, "values": [0, 0.025, 0.05, 0.075, 0.1], "format": ".3f"}}},
   "layer": [
    {"data": {"name": "daily"}, "transform": [{"filter": "datum.region === 'SW'"}], "mark": {"type": "rule", "color": "#118499", "strokeWidth": 1.7}, "encoding": {"y2": {"datum": 0}}},
    {"data": {"name": "avg"}, "transform": [{"filter": "datum.region === 'SW'"}], "mark": {"type": "line", "color": "black", "strokeWidth": 3, "strokeJoin": "round"}, "encoding": {}},
    {"data": {"name": "trend"}, "transform": [{"filter": "datum.region === 'SW'"}], "mark": {"type": "line", "color": "black", "strokeWidth": 2.5, "strokeDash": [0.5, 11.5], "strokeCap": "round"}, "encoding": {}}
   ]}
 ]
}]
}
